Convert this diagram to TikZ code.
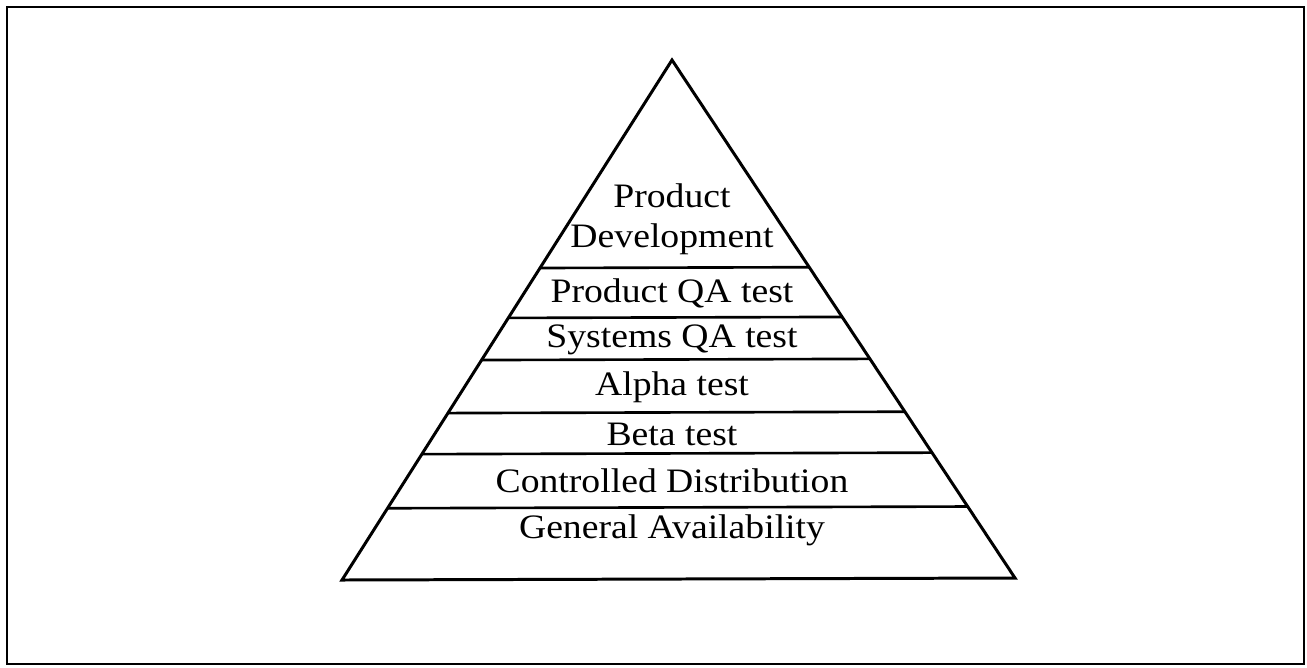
\documentclass[tikz,border=0pt]{standalone}
\usepackage{fontspec}
\setmainfont[FakeStretch=1.1]{Liberation Serif}
\usetikzlibrary{calc}

\begin{document}
\begin{tikzpicture}[x=0.02cm,y=-0.02cm,line width=1.7pt,
    level/.style={font=\fontsize{19.5}{23}\selectfont,align=center}]

\useasboundingbox (0,0) rectangle (1307,667);
\draw[line width=1.4pt] (7,7) rectangle (1304,664);

% the pyramid
\coordinate (top) at (672,60);
\coordinate (bl) at (342,580);
\coordinate (br) at (1015,578);
\draw[line join=miter] (top) -- (bl) -- (br) -- cycle;

% cuts between the levels
\foreach \t in {0.4,0.496,0.577,0.679,0.758,0.862}
  \draw[line width=1.5pt] ($(top)!\t!(bl)$) -- ($(top)!\t!(br)$);

\node[level] (dev) at (672,219) {Product\\Development};
\node[level] (pqa) at (672,293) {Product QA test};
\node[level] (sqa) at (672,340) {Systems QA test};
\node[level] (alpha) at (672,387) {Alpha test};
\node[level] (beta) at (672,434) {Beta test};
\node[level] (ctrl) at (672,481) {Controlled Distribution};
\node[level] (ga) at (672,530) {General Availability};

\end{tikzpicture}
\end{document}
